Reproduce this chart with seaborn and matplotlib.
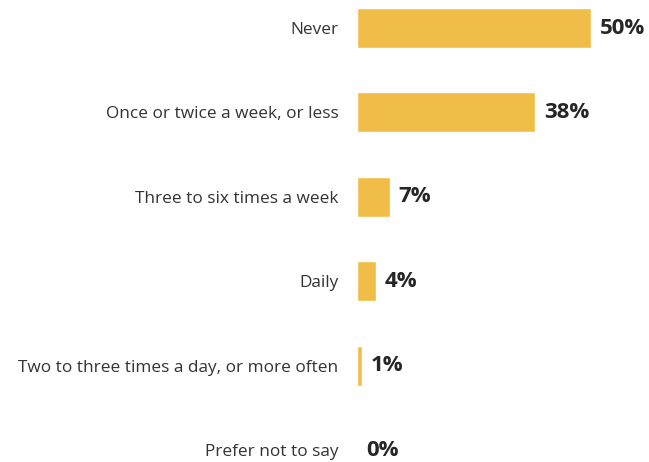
import pandas as pd
import matplotlib
matplotlib.use('Agg')
import matplotlib.pyplot as plt
import seaborn as sns

sns.set_style('white')
plt.rcParams['font.family'] = ['Open Sans', 'DejaVu Sans']

# 数据
categories = ['Never', 'Once or twice a week, or less', 'Three to six times a week',
              'Daily', 'Two to three times a day, or more often', 'Prefer not to say']
percent = [50, 38, 7, 4, 1, 0]

df = pd.DataFrame({'category': categories, 'percent': percent})

fig = plt.figure(figsize=(6.49, 4.62), dpi=100)
ax = fig.add_axes([357 / 649, 0, 292 / 649, 1])

sns.barplot(data=df, x='percent', y='category', orient='h', color='#F0BE48',
            width=0.474, saturation=1, ax=ax)

ax.set_xlim(0, 62.4)
ax.set_ylim(5.142, -0.332)
ax.set_xlabel('')
ax.set_ylabel('')
ax.set_xticks([])
sns.despine(ax=ax, left=True, bottom=True)
ax.tick_params(axis='y', length=0, pad=13.5, labelsize=12.4, labelcolor='#333333')

# 数值标签
for i, v in enumerate(percent):
    ax.text(v + 1.9, i, f'{v}%', va='center', ha='left', fontsize=16,
            fontweight='bold', color='#262626')

fig.savefig('out.png', dpi=100)
